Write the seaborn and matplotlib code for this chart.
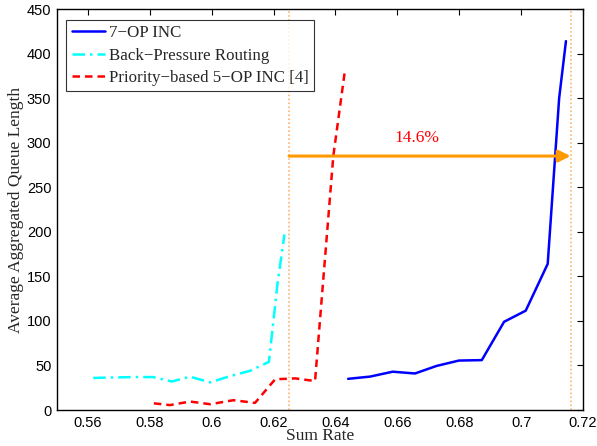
import matplotlib
matplotlib.use("Agg")
import matplotlib.pyplot as plt
import seaborn as sns
import pandas as pd

# Data
op7_x = [0.6441, 0.6512, 0.6585, 0.6657, 0.6727, 0.6799, 0.6873, 0.6945, 0.7015, 0.7086, 0.7123, 0.7145]
op7_y = [35, 37.5, 43, 41, 49.5, 55.5, 56, 99, 111.5, 164, 350, 414]

bp_x = [0.5617, 0.568, 0.575, 0.581, 0.5871, 0.593, 0.5995, 0.6059, 0.6124, 0.6185, 0.6212, 0.6235]
bp_y = [36, 36.5, 37, 37, 32, 37.4, 31, 38, 44, 54, 140, 197]

pr_x = [0.5813, 0.5865, 0.593, 0.5995, 0.607, 0.614, 0.6205, 0.627, 0.6334, 0.6393, 0.6431]
pr_y = [7.5, 5.5, 9.5, 6.5, 11, 8, 34.5, 35.5, 32.5, 285, 382]

labels = ["7\u2212OP INC", "Back\u2212Pressure Routing", "Priority\u2212based 5\u2212OP INC [4]"]

x_ticks = [0.56, 0.58, 0.60, 0.62, 0.64, 0.66, 0.68, 0.70, 0.72]
x_tick_labels = ["0.56", "0.58", "0.6", "0.62", "0.64", "0.66", "0.68", "0.7", "0.72"]
y_ticks = [0, 50, 100, 150, 200, 250, 300, 350, 400, 450]

vline_x = [0.625, 0.716]
arrow_y = 285
arrow_text = "14.6%"

sns.set_theme(style="white")
plt.rcParams["font.family"] = ["Liberation Sans", "DejaVu Sans"]
serif = ["Liberation Serif", "DejaVu Serif"]

fig = plt.figure(figsize=(5.97, 4.46), dpi=100)
ax = fig.add_axes([0.0955, 0.0807, 0.881, 0.899])

df1 = pd.DataFrame({"x": op7_x, "y": op7_y})
df2 = pd.DataFrame({"x": bp_x, "y": bp_y})
df3 = pd.DataFrame({"x": pr_x, "y": pr_y})

sns.lineplot(data=df1, x="x", y="y", ax=ax, color="#0000FF", lw=1.8, sort=False, label=labels[0])
sns.lineplot(data=df2, x="x", y="y", ax=ax, color="#00FFFF", lw=1.8, sort=False, label=labels[1])
sns.lineplot(data=df3, x="x", y="y", ax=ax, color="#FF0000", lw=1.8, sort=False, label=labels[2])
lines = ax.get_lines()
lines[1].set_linestyle((0, (5, 2, 1, 2)))
lines[2].set_linestyle((0, (3, 2)))

for vx in vline_x:
    ax.axvline(vx, color="#FFAA55", lw=1.1, ls=(0, (1, 1.6)), zorder=0)

ax.annotate("", xy=(vline_x[1], arrow_y), xytext=(vline_x[0], arrow_y),
            arrowprops=dict(arrowstyle="-|>,head_length=0.6,head_width=0.3", color="#FF9900", lw=2.2,
                            shrinkA=0, shrinkB=0))
ax.text(0.6665, 296, arrow_text, color="#FF0000", ha="center", va="bottom",
        fontsize=12.5, family=serif)

ax.set_xlim(0.55, 0.72)
ax.set_ylim(0, 450)
ax.set_xticks(x_ticks)
ax.set_xticklabels(x_tick_labels)
ax.set_yticks(y_ticks)
ax.tick_params(direction="in", length=4, width=0.8, top=True, right=True, labelsize=10.5, colors="black",
               pad=4)
for s in ax.spines.values():
    s.set_color("black")
    s.set_linewidth(1.0)

ax.set_xlabel("Sum Rate", fontsize=12.5, family=serif, labelpad=-1)
ax.set_ylabel("Average Aggregated Queue Length", fontsize=12.5, family=serif, labelpad=2)

leg = ax.legend(loc="upper left", bbox_to_anchor=(0.018, 0.972), frameon=True, fancybox=False,
                prop={"family": serif, "size": 12.2},
                handlelength=2.0, handletextpad=0.2, borderpad=0.3, labelspacing=0.38, borderaxespad=0)
leg.get_frame().set_edgecolor("black")
leg.get_frame().set_linewidth(0.8)

fig.savefig("out.png", dpi=100)
